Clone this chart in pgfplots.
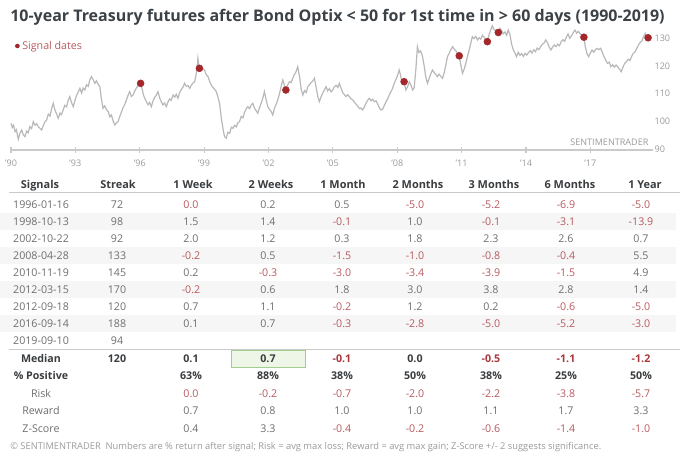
\documentclass[border=0pt]{standalone}
\usepackage{pgfplots}
\pgfplotsset{compat=1.18}
\usepackage{fontspec}
\setmainfont{Open Sans}

\definecolor{linegray}{HTML}{B8B8B8}
\definecolor{sigred}{HTML}{A3282C}
\definecolor{titlecol}{HTML}{3C4146}
\definecolor{hdrcol}{HTML}{3A3D40}
\definecolor{valcol}{HTML}{6E6E6E}
\definecolor{negcol}{HTML}{B65A60}
\definecolor{negbold}{HTML}{A8383E}
\definecolor{tickcol}{HTML}{9A9A9A}
\definecolor{rulecol}{HTML}{CACACA}
\definecolor{rowshade}{HTML}{F6F6F6}
\definecolor{hlfill}{HTML}{EEF6E8}
\definecolor{hldraw}{HTML}{A2CF8E}

\newcommand{\fs}[1]{\fontsize{#1}{#1}\selectfont}

% column centres (px)
\def\colx{{191,268,342,415,491,566,641}}

% one row of values, #1 = baseline (px), #2 = values, #3 = font
\newcommand{\vals}[3]{%
  \foreach \v [count=\i] in {#2} {%
    \pgfmathsetmacro\xx{\colx[\i-1]}%
    \pgfmathparse{(\v<=0)?1:0}%
    \ifdim\pgfmathresult pt>0.5pt \def\cc{negcol}\else\def\cc{valcol}\fi
    \node[cell, text=\cc, font=#3] at (\xx,#1) {\v};
  }}

\begin{document}
\begin{tikzpicture}
\begin{scope}[x=0.75pt, y=-0.75pt,
  cell/.style={anchor=base, inner sep=0pt, font=\fs{8}}]
\path[use as bounding box] (0,0) rectangle (691,456);
\coordinate (ax) at (11,150);

% title
\node[anchor=base west, inner sep=0pt, text=titlecol, font=\fs{12}\bfseries]
  at (10,22) {10-year Treasury futures after Bond Optix < 50 for 1st time in > 60 days (1990-2019)};

% row shading
\foreach \yc in {221.3,255.3,289.3,323.3}
  \fill[rowshade] (0,\yc-8.5) rectangle (676,\yc+8.5);

% header
\foreach \x/\t in {40/Signals,118/Streak,193/1 Week,271/2 Weeks,343/1 Month,418/2 Months,494/3 Months,570/6 Months,645/1 Year}
  \node[cell, text=hdrcol, font=\fs{8.2}\bfseries] at (\x,188) {\t};
\draw[rulecol, line width=0.8pt] (9,192.5) -- (680,192.5);

% signal rows
\foreach \d/\s [count=\k from 0] in {1996-01-16/72,1998-10-13/98,2002-10-22/92,2008-04-28/133,2010-11-19/145,2012-03-15/170,2012-09-18/120,2016-09-14/188,2019-09-10/94} {
  \node[cell, text=valcol] at (41,208+17*\k) {\d};
  \node[cell, text=valcol] at (117,208+17*\k) {\s};
}
\vals{208}{0.0,0.2,0.5,-5.0,-5.2,-6.9,-5.0}{\fs{8}}
\vals{225}{1.5,1.4,-0.1,1.0,-0.1,-3.1,-13.9}{\fs{8}}
\vals{242}{2.0,1.2,0.3,1.8,2.3,2.6,0.7}{\fs{8}}
\vals{259}{-0.2,0.5,-1.5,-1.0,-0.8,-0.4,5.5}{\fs{8}}
\vals{276}{0.2,-0.3,-3.0,-3.4,-3.9,-1.5,4.9}{\fs{8}}
\vals{293}{-0.2,0.6,1.8,3.0,3.8,2.8,1.4}{\fs{8}}
\vals{310}{0.7,1.1,-0.2,1.2,0.2,-0.6,-5.0}{\fs{8}}
\vals{327}{0.1,0.7,-0.3,-2.8,-5.0,-5.2,-3.0}{\fs{8}}

\draw[rulecol, line width=0.8pt] (9,349.3) -- (680,349.3);
\filldraw[fill=hlfill, draw=hldraw, line width=0.6pt] (231,350) rectangle (305,367);

% summary
\node[cell, text=hdrcol, font=\fs{8}\bfseries] at (41,362) {Median};
\node[cell, text=hdrcol, font=\fs{8}\bfseries] at (117,362) {120};
\foreach \v [count=\i] in {0.1,0.7,-0.1,0.0,-0.5,-1.1,-1.2} {
  \pgfmathsetmacro\xx{\colx[\i-1]}
  \pgfmathparse{(\v<0)?1:0}
  \ifdim\pgfmathresult pt>0.5pt \def\cc{negbold}\else\def\cc{hdrcol}\fi
  \node[cell, text=\cc, font=\fs{8}\bfseries] at (\xx,362) {\v};
}
\node[cell, text=hdrcol, font=\fs{8}\bfseries] at (41,379.5) {\% Positive};
\foreach \v [count=\i] in {63,88,38,50,38,25,50} {
  \pgfmathsetmacro\xx{\colx[\i-1]}
  \node[cell, text=hdrcol, font=\fs{8}\bfseries] at (\xx,379.5) {\v\%};
}
\node[cell, text=valcol] at (41,397) {Risk};
\vals{397}{0.0,-0.2,-0.7,-2.0,-2.2,-3.8,-5.7}{\fs{8}}
\node[cell, text=valcol] at (41,414.5) {Reward};
\vals{414.5}{0.7,0.8,1.0,1.0,1.1,1.7,3.3}{\fs{8}}
\node[cell, text=valcol] at (41,432) {Z-Score};
\vals{432}{0.4,3.3,-0.4,-0.2,-0.6,-1.4,-1.0}{\fs{8}}

% footer
\node[anchor=base west, inner sep=0pt, text=tickcol, font=\fs{7}] at (10,449.5)
  {© SENTIMENTRADER\ \ Numbers are \% return after signal; Risk = avg max loss; Reward = avg max gain; Z-Score +/- 2 suggests significance.};
\end{scope}

\begin{axis}[
  at={(ax)}, anchor=south west,
  width=481.5pt, height=97.5pt, scale only axis,
  xmin=1990, xmax=2019.92, ymin=89.7, ymax=136.5,
  clip=false,
  axis x line*=bottom, axis y line*=right,
  x axis line style={draw=rulecol, line width=1.2pt, -},
  y axis line style={draw=none},
  xtick={1990,1993,1996,1999,2002,2005,2008,2011,2014,2017},
  xticklabels={’90,’93,’96,’99,’02,’05,’08,’11,’14,’17},
  xtick align=center, major tick length=4pt,
  xtick style={draw=rulecol, line width=0.8pt},
  ytick={90,100,110,120,130}, ytick style={draw=none},
  /pgf/number format/assume math mode=true,
  ticklabel style={font=\fs{6.8}, text=tickcol},
  xticklabel style={yshift=-2pt},
  yticklabel style={anchor=west, inner sep=0pt, xshift=1pt},
  legend style={at={(0.006,0.8)}, anchor=west, draw=none, fill=none,
    font=\fs{8}, text=negcol, inner sep=0pt},
  legend image code/.code={\fill[sigred] (2pt,0pt) circle (1.5pt);},
]
\addplot[linegray, line width=0.9pt, forget plot] coordinates {
(1990.00,99.3)(1990.06,97.8)(1990.12,98.6)(1990.19,96.3)(1990.25,97.0)(1990.34,93.6)
(1990.42,95.8)(1990.50,96.9)(1990.57,95.2)(1990.65,94.5)(1990.73,96.5)(1990.80,95.9)
(1990.88,98.1)(1990.96,97.4)(1991.04,99.9)(1991.12,98.6)(1991.20,99.2)(1991.27,98.1)
(1991.35,97.5)(1991.43,96.9)(1991.50,98.4)(1991.58,99.8)(1991.66,100.5)(1991.74,102.6)
(1991.82,101.9)(1991.90,104.7)(1991.97,106.5)(1992.04,104.2)(1992.12,102.8)(1992.20,101.1)
(1992.28,103.0)(1992.35,102.4)(1992.43,104.1)(1992.51,105.8)(1992.59,105.2)(1992.66,107.4)
(1992.74,108.9)(1992.82,106.8)(1992.90,105.3)(1992.98,107.5)(1993.05,109.2)(1993.13,110.6)
(1993.21,111.9)(1993.29,110.2)(1993.36,112.0)(1993.44,111.3)(1993.52,113.2)(1993.60,112.6)
(1993.67,114.9)(1993.75,116.1)(1993.83,115.0)(1993.91,113.7)(1993.98,114.6)(1994.06,113.4)
(1994.14,112.5)(1994.21,108.3)(1994.29,104.7)(1994.37,105.6)(1994.45,104.2)(1994.53,103.5)
(1994.61,101.6)(1994.68,102.3)(1994.76,100.1)(1994.84,98.7)(1994.92,99.5)(1994.99,99.9)
(1995.07,101.8)(1995.15,103.4)(1995.22,104.9)(1995.30,106.1)(1995.38,107.7)(1995.45,109.3)
(1995.53,110.7)(1995.61,109.0)(1995.69,109.5)(1995.77,111.0)(1995.85,112.1)(1995.92,112.9)
(1996.04,113.7)(1996.10,112.0)(1996.17,109.6)(1996.24,108.2)(1996.31,107.1)(1996.39,106.0)
(1996.46,106.8)(1996.54,105.3)(1996.62,107.4)(1996.69,108.6)(1996.77,109.4)(1996.85,110.7)
(1996.93,108.4)(1997.00,107.2)(1997.08,105.9)(1997.16,106.6)(1997.24,105.3)(1997.31,106.9)
(1997.39,108.1)(1997.47,107.6)(1997.55,109.5)(1997.63,108.7)(1997.70,109.8)(1997.78,108.3)
(1997.86,110.4)(1997.94,111.5)(1998.02,112.4)(1998.09,113.7)(1998.17,112.6)(1998.25,112.9)
(1998.33,111.9)(1998.41,113.1)(1998.48,113.8)(1998.56,114.3)(1998.62,116.5)(1998.68,120.1)
(1998.71,122.7)(1998.75,120.4)(1998.78,119.1)(1998.86,120.0)(1998.94,118.9)(1999.02,118.5)
(1999.10,116.8)(1999.18,116.2)(1999.26,114.3)(1999.34,113.0)(1999.41,112.2)(1999.49,111.6)
(1999.57,110.7)(1999.64,108.9)(1999.72,106.5)(1999.80,101.3)(1999.88,97.4)(1999.95,94.5)
(2000.03,93.9)(2000.11,96.1)(2000.19,95.7)(2000.27,97.9)(2000.34,97.5)(2000.42,98.6)
(2000.50,98.0)(2000.57,99.5)(2000.65,99.9)(2000.73,101.8)(2000.81,101.3)(2000.88,103.2)
(2000.96,104.5)(2001.04,105.3)(2001.12,104.6)(2001.20,106.0)(2001.27,106.5)(2001.35,104.7)
(2001.43,103.8)(2001.50,102.9)(2001.58,104.9)(2001.66,106.6)(2001.73,108.2)(2001.81,110.7)
(2001.89,107.8)(2001.97,105.3)(2002.04,104.4)(2002.12,103.6)(2002.20,102.3)(2002.28,104.8)
(2002.35,106.0)(2002.43,107.7)(2002.51,109.9)(2002.59,112.6)(2002.67,114.9)(2002.74,113.0)
(2002.81,111.3)(2002.90,113.2)(2002.98,114.3)(2003.06,114.0)(2003.13,115.5)(2003.21,116.9)
(2003.28,117.8)(2003.36,119.7)(2003.44,116.5)(2003.52,111.8)(2003.60,109.5)(2003.68,111.1)
(2003.76,110.4)(2003.83,112.5)(2003.91,113.2)(2003.99,114.0)(2004.07,114.6)(2004.14,115.5)
(2004.22,112.3)(2004.30,108.9)(2004.37,107.1)(2004.45,108.8)(2004.53,110.2)(2004.61,111.4)
(2004.68,112.5)(2004.76,111.0)(2004.84,111.8)(2004.92,110.6)(2004.99,111.3)(2005.07,112.4)
(2005.15,113.0)(2005.23,112.2)(2005.30,113.7)(2005.38,112.0)(2005.46,110.4)(2005.53,109.7)
(2005.61,108.9)(2005.69,109.6)(2005.77,108.9)(2005.85,108.1)(2005.93,107.7)(2006.00,107.0)
(2006.08,106.2)(2006.16,105.5)(2006.24,104.6)(2006.31,104.8)(2006.39,104.1)(2006.47,105.3)
(2006.54,106.5)(2006.62,107.6)(2006.70,108.3)(2006.78,107.4)(2006.85,108.0)(2006.93,107.1)
(2007.01,107.4)(2007.09,106.2)(2007.16,105.0)(2007.24,104.1)(2007.32,104.4)(2007.40,105.8)
(2007.47,106.9)(2007.55,108.1)(2007.63,109.5)(2007.70,110.6)(2007.78,111.8)(2007.86,113.7)
(2007.94,115.1)(2008.01,116.4)(2008.09,118.5)(2008.15,116.8)(2008.22,114.0)(2008.32,114.3)
(2008.40,111.3)(2008.48,112.4)(2008.56,114.3)(2008.64,113.0)(2008.72,111.3)(2008.79,112.1)
(2008.87,118.9)(2008.94,126.9)(2009.01,124.8)(2009.09,125.4)(2009.18,123.3)(2009.26,119.7)
(2009.33,116.0)(2009.41,113.7)(2009.49,115.5)(2009.57,117.2)(2009.64,118.5)(2009.72,117.6)
(2009.80,116.9)(2009.87,116.1)(2009.95,117.0)(2010.03,116.2)(2010.11,115.5)(2010.19,117.6)
(2010.26,120.1)(2010.34,123.3)(2010.42,124.5)(2010.50,125.8)(2010.58,126.9)(2010.66,126.0)
(2010.74,125.3)(2010.81,124.6)(2010.89,123.6)(2010.96,120.5)(2011.04,117.3)(2011.12,118.8)
(2011.20,121.0)(2011.27,123.3)(2011.35,125.6)(2011.43,128.2)(2011.50,130.5)(2011.58,129.8)
(2011.66,130.6)(2011.74,129.3)(2011.81,130.1)(2011.89,129.6)(2011.97,131.0)(2012.05,130.3)
(2012.13,129.4)(2012.20,128.7)(2012.28,131.2)(2012.36,133.0)(2012.43,134.4)(2012.51,133.1)
(2012.59,132.6)(2012.71,132.0)(2012.78,133.5)(2012.86,132.8)(2012.94,131.5)(2013.02,132.2)
(2013.10,131.0)(2013.17,132.9)(2013.25,131.4)(2013.33,127.8)(2013.41,125.7)(2013.49,124.6)
(2013.56,123.3)(2013.64,124.9)(2013.72,123.8)(2013.80,124.4)(2013.88,123.4)(2013.96,124.5)
(2014.04,123.9)(2014.12,124.8)(2014.20,125.5)(2014.28,124.6)(2014.36,125.8)(2014.44,125.1)
(2014.52,126.4)(2014.60,125.8)(2014.68,126.9)(2014.76,127.7)(2014.84,128.2)(2014.92,129.3)
(2015.00,128.4)(2015.08,126.8)(2015.16,125.7)(2015.24,126.7)(2015.32,127.5)(2015.40,126.9)
(2015.48,127.8)(2015.56,127.2)(2015.64,128.7)(2015.72,129.4)(2015.80,128.8)(2015.88,130.3)
(2015.96,131.5)(2016.04,129.9)(2016.12,130.8)(2016.20,131.9)(2016.28,132.9)(2016.36,131.8)
(2016.44,132.4)(2016.52,131.6)(2016.60,131.1)(2016.70,130.3)(2016.76,127.0)(2016.84,124.5)
(2016.92,123.3)(2017.00,124.6)(2017.08,125.7)(2017.16,124.9)(2017.24,125.9)(2017.32,126.3)
(2017.40,125.8)(2017.48,126.3)(2017.56,124.8)(2017.64,123.3)(2017.72,122.0)(2017.80,120.9)
(2017.88,121.3)(2017.96,119.7)(2018.04,120.4)(2018.12,119.5)(2018.20,120.3)(2018.28,119.6)
(2018.36,118.8)(2018.44,117.9)(2018.52,119.5)(2018.60,120.9)(2018.68,121.5)(2018.76,122.4)
(2018.84,121.9)(2018.92,123.3)(2019.00,124.5)(2019.08,125.0)(2019.16,126.2)(2019.24,127.5)
(2019.32,128.4)(2019.40,128.9)(2019.48,130.5)(2019.56,131.7)(2019.62,130.8)(2019.69,130.1)
};
\addplot[only marks, mark=*, mark size=2.6pt, color=sigred] coordinates {
(1996.04,113.7)(1998.78,119.1)(2002.81,111.3)(2008.32,114.3)(2010.89,123.6)
(2012.20,128.7)(2012.71,132.0)(2016.70,130.3)(2019.69,130.1)
};
\addlegendentry{Signal dates}
\node[anchor=base east, inner sep=0pt, font=\fs{6.8}, text=tickcol]
  at (axis cs:2019.72,91.2) {SENTIMENTRADER};
\end{axis}
\end{tikzpicture}
\end{document}
